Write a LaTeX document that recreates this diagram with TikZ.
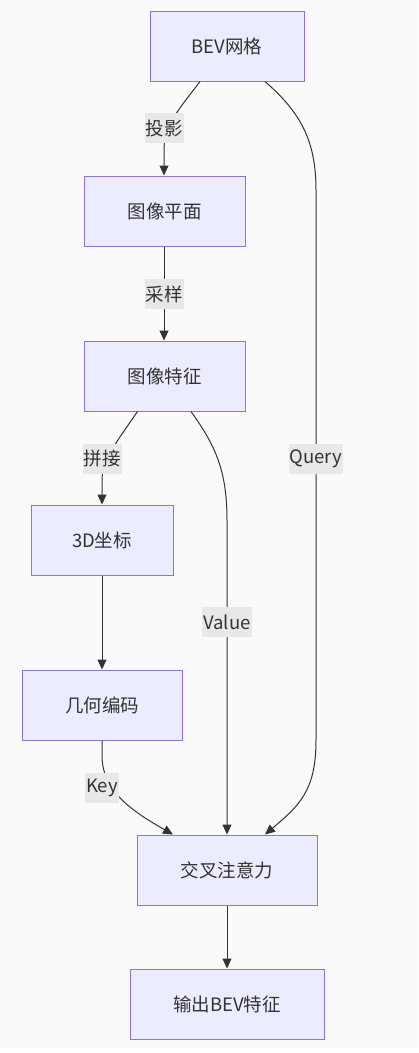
\documentclass[tikz,border=0pt]{standalone}
\usepackage{fontspec}
\setmainfont{Noto Sans CJK SC}
\usetikzlibrary{arrows.meta,calc}
\definecolor{boxfill}{HTML}{ECECFF}
\definecolor{boxline}{HTML}{9370DB}
\definecolor{ink}{HTML}{333333}
\definecolor{lblbg}{HTML}{E8E8E8}
\definecolor{pagebg}{HTML}{FAFAFA}
\begin{document}
\begin{tikzpicture}[x=1pt,y=-1pt,
  box/.style={draw=boxline, fill=boxfill, line width=1pt, minimum height=70pt, inner sep=0pt, font=\fontsize{18.5}{22}\selectfont, text=ink},
  lbl/.style={fill=lblbg, inner xsep=1pt, inner ysep=0pt, minimum height=30pt, font=\fontsize{18.5}{22}\selectfont, text=ink},
  edge/.style={draw=ink, line width=1pt, -{Triangle[length=10pt,width=9pt]}}]
\useasboundingbox (0,0) rectangle (418,1053);
\fill[pagebg] (0,0) rectangle (418,1048);

\node[box, minimum width=154pt] (bev) at (227,46) {BEV网格};
\node[box, minimum width=161pt] (pp) at (164.5,211) {图像平面};
\node[box, minimum width=161pt] (feat) at (164.5,376) {图像特征};
\node[box, minimum width=142pt] (coord) at (102,540) {3D坐标};
\node[box, minimum width=160pt] (geo) at (102,705) {几何编码};
\node[box, minimum width=180pt] (ca) at (227,870) {交叉注意力};
\node[box, minimum width=194pt] (out) at (227,1004) {输出BEV特征};

\draw[edge] ($(bev.south)+(-27,0)$) .. controls (180,108) and (164,125) .. (164,150) -- (pp.north -| 164,0);
\draw[edge] (pp.south -| 164,0) -- (feat.north -| 164,0);
\draw[edge] ($(feat.south)+(-27,0)$) .. controls (118,440) and (102,460) .. (102,480) -- (coord.north);
\draw[edge] (coord.south) -- (geo.north);
\draw[edge] ($(feat.south)+(26.5,0)$) .. controls (215,445) and (227,470) .. (227,520) -- (ca.north);
\draw[edge] ($(bev.south)+(38,0)$) .. controls (300,112) and (316,140) .. (316,190) -- (316,740) .. controls (316,790) and (300,805) .. ($(ca.north)+(38,0)$);
\draw[edge] (geo.south) -- ++(0,15) .. controls (102,790) and (130,810) .. ($(ca.north)+(-54,0)$);
\draw[edge] (ca.south) -- (out.north);

\node[lbl] (l1) at (164,128) {投影};
\node[lbl] (l2) at (164,294) {采样};
\node[lbl] (l3) at (102,459) {拼接};
\node[lbl] (l4) at (316,459) {Query};
\node[lbl] (l5) at (227,622) {Value};
\node[lbl] (l6) at (102,788) {Key};
\end{tikzpicture}
\end{document}
